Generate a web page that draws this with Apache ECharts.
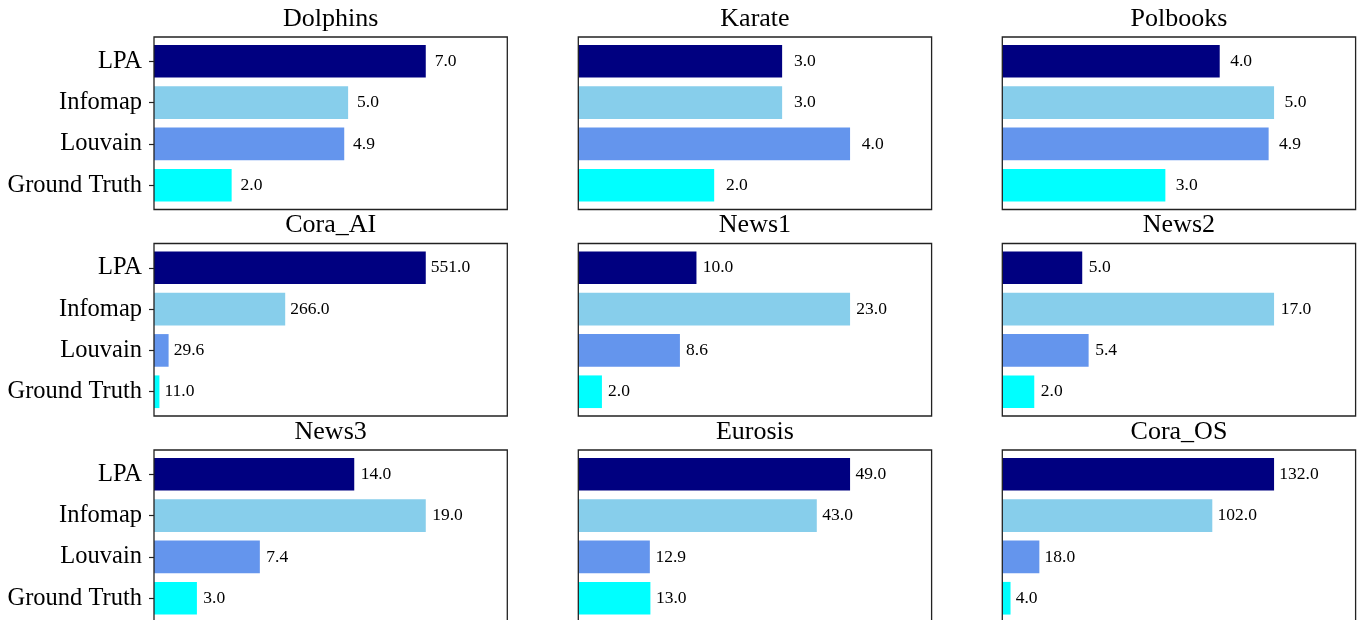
<!DOCTYPE html>
<html>
<head>
<meta charset="utf-8">
<title>Community counts per dataset</title>
<script src="https://cdn.jsdelivr.net/npm/echarts@6/dist/echarts.min.js"></script>
<style>
  html, body { margin: 0; padding: 0; background: #fff; }
  #chart { width: 1366px; height: 620px; }
</style>
</head>
<body>
<div id="chart"></div>
<script>
// Methods (one bar each, top to bottom) and datasets (one panel each, row by row)
const methods = ['LPA', 'Infomap', 'Louvain', 'Ground Truth'];
const datasetNames = ['Dolphins', 'Karate', 'Polbooks', 'Cora_AI', 'News1', 'News2', 'News3', 'Eurosis', 'Cora_OS'];

// Number of communities found, in the order of `methods`
const dolphins = [7.0, 5.0, 4.9, 2.0];
const karate   = [3.0, 3.0, 4.0, 2.0];
const polbooks = [4.0, 5.0, 4.9, 3.0];
const coraAI   = [551.0, 266.0, 29.6, 11.0];
const news1    = [10.0, 23.0, 8.6, 2.0];
const news2    = [5.0, 17.0, 5.4, 2.0];
const news3    = [14.0, 19.0, 7.4, 3.0];
const eurosis  = [49.0, 43.0, 12.9, 13.0];
const coraOS   = [132.0, 102.0, 18.0, 4.0];

const panelValues = [dolphins, karate, polbooks, coraAI, news1, news2, news3, eurosis, coraOS];
const methodColors = ['#000080', '#87CEEB', '#6495ED', '#00FFFF'];

// Panel geometry (pixels)
const colLeft = [154, 578.3, 1002.3];
const panelW = 353.3;
const rowTop = [37, 243.5, 450];
const panelH = 172.5;
const inset = 3.6;          // vertical padding between frame and first/last bar band
const FONT = '"Liberation Serif", "Times New Roman", serif';

const grids = [], xAxes = [], yAxes = [], series = [], titles = [];

panelValues.forEach((vals, i) => {
  const r = Math.floor(i / 3), c = i % 3;
  const left = colLeft[c], top = rowTop[r];
  const vmax = Math.max(...vals) * 1.3;
  const pxPerUnit = panelW / vmax;

  // bar grid (slightly inset vertically so the category bands sit like the original)
  grids.push({
    left: left, top: top + inset, width: panelW, height: panelH - 2 * inset,
    show: false, containLabel: false, outerBoundsMode: 'none'
  });
  xAxes.push({
    gridIndex: i, type: 'value', min: 0, max: vmax, show: false
  });
  yAxes.push({
    gridIndex: i, type: 'category', data: methods, inverse: true,
    show: c === 0,
    axisLine: { show: false },
    axisTick: { show: true, alignWithLabel: true, length: 5, lineStyle: { color: '#222', width: 1.2 } },
    axisLabel: { show: true, margin: 12, fontFamily: FONT, fontSize: 24.5, color: '#000' },
    splitLine: { show: false }
  });
  series.push({
    type: 'bar', xAxisIndex: i, yAxisIndex: i,
    barWidth: '79%',
    data: vals.map((v, k) => ({ value: v, itemStyle: { color: methodColors[k] } })),
    label: {
      show: true, position: 'right',
      distance: 5 + 0.1 * pxPerUnit,
      formatter: p => p.value.toFixed(1),
      fontFamily: FONT, fontSize: 17.5, color: '#000'
    },
    silent: true, animation: false
  });
  titles.push({
    text: datasetNames[i],
    left: left + panelW / 2, top: top - 31, textAlign: 'center', padding: 0,
    textStyle: { fontFamily: FONT, fontSize: 26, fontWeight: 'normal', color: '#000' }
  });
});

// frame grids: the black box around each panel (the bottom row runs past the page edge)
panelValues.forEach((vals, i) => {
  const r = Math.floor(i / 3), c = i % 3;
  const idx = grids.length;
  grids.push({
    left: colLeft[c], top: rowTop[r], width: panelW, height: panelH,
    show: true, borderColor: '#222', borderWidth: 1.3, backgroundColor: 'transparent', z: 3,
    outerBoundsMode: 'none'
  });
  xAxes.push({ gridIndex: idx, type: 'value', show: false });
  yAxes.push({ gridIndex: idx, type: 'value', show: false });
});

const chart = echarts.init(document.getElementById('chart'), null, { renderer: 'canvas' });
chart.setOption({
  animation: false,
  backgroundColor: '#fff',
  title: titles,
  grid: grids,
  xAxis: xAxes,
  yAxis: yAxes,
  series: series
});
</script>
</body>
</html>
